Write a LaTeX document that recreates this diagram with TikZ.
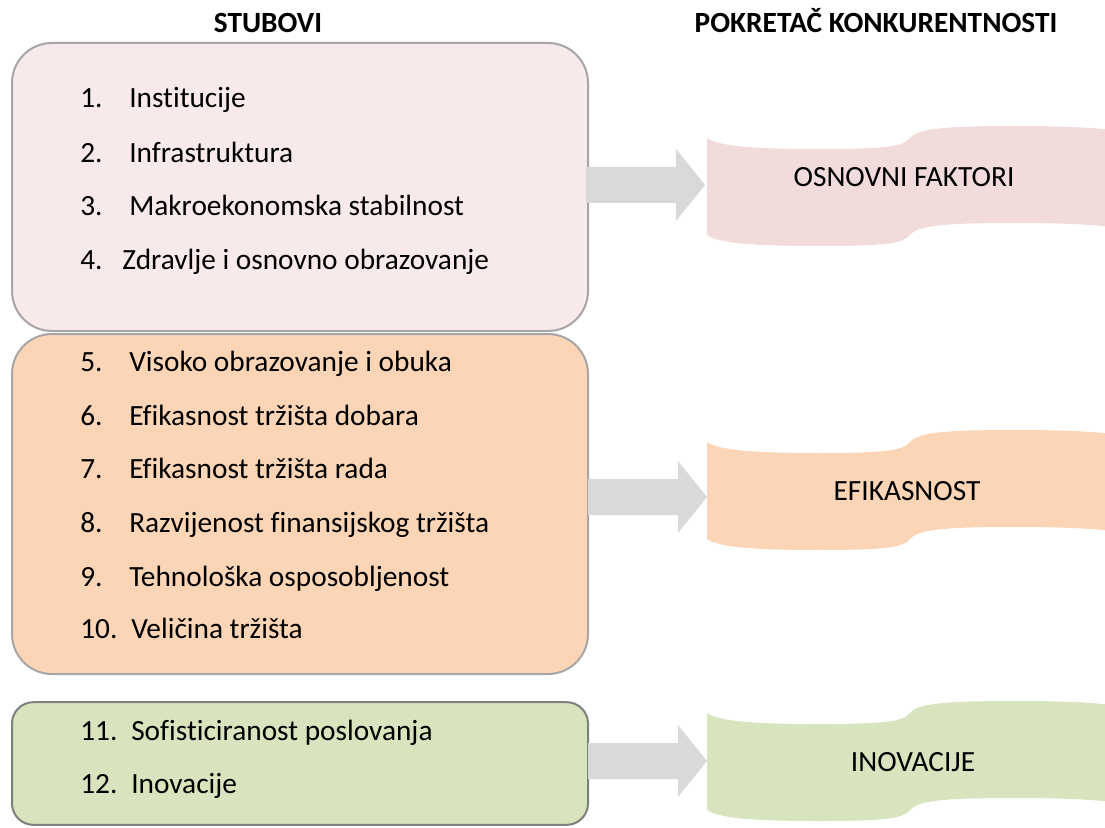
\documentclass[tikz,border=0pt]{standalone}
\usepackage{fontspec}
\setmainfont{Carlito}[Ligatures=NoCommon]
\usetikzlibrary{calc}
\definecolor{pinkbox}{HTML}{F8EAEA}
\definecolor{pinkwave}{HTML}{F2DCDB}
\definecolor{orangebox}{HTML}{FBD5B5}
\definecolor{greenbox}{HTML}{D7E4BD}
\definecolor{arrowgray}{HTML}{D9D9D9}
\definecolor{bordergray}{HTML}{A6A6A6}
\definecolor{borderdark}{HTML}{7F7F7F}
\newcommand\blockarr[2]{%
  \fill[blockarrow] ($(#1)+(0,-18)$) -- ($(#2)+(-29,-18)$) -- ($(#2)+(-29,-36)$) -- (#2)
    -- ($(#2)+(-29,36)$) -- ($(#2)+(-29,18)$) -- ($(#1)+(0,18)$) -- cycle;}
\newcommand\wavefill[2]{%
  \begin{scope}[shift={(0,#1)}]
  \fill[#2] (707,138) .. controls (720,147) and (760,149) .. (820,149)
    .. controls (890,149) and (903,146) .. (910,138)
    .. controls (917,130) and (935,126) .. (1010,126)
    .. controls (1060,126) and (1090,127) .. (1120,131)
    -- (1120,228) .. controls (1090,224) and (1060,223) .. (1010,223)
    .. controls (935,223) and (917,227) .. (910,235)
    .. controls (903,243) and (890,246) .. (820,246)
    .. controls (760,246) and (720,244) .. (707,235) -- cycle;
  \end{scope}}
\tikzset{
  box/.style={draw=bordergray, line width=1.5pt, rounded corners=30pt, minimum width=432pt, inner sep=0pt},
  blockarrow/.style={fill=arrowgray},
  item/.style={anchor=base west, inner sep=0pt, font=\fontsize{22}{26}\selectfont},
  wavetext/.style={anchor=base, inner sep=0pt, font=\fontsize{22}{26}\selectfont},
  title/.style={anchor=base, inner sep=0pt, font=\fontsize{22}{26}\selectfont\bfseries},
}
\begin{document}
\begin{tikzpicture}[x=0.75pt,y=-0.75pt]
\useasboundingbox (0,0) rectangle (1105,827);
\clip (0,0) rectangle (1105,827);
% titles
\node[title] (tl) at (268,33) {STUBOVI};
\node[title] (tr) at (876,33) {POKRETAČ KONKURENTNOSTI};
% boxes
\node[box, fill=pinkbox, minimum height=216pt] (b1) at (300,187) {};
\node[box, fill=orangebox, minimum height=255pt] (b2) at (300,504) {};
\node[box, draw=borderdark, fill=greenbox, rounded corners=16pt, minimum height=92pt] (b3) at (300,763.5) {};
% arrows
\coordinate (a1s) at (586,185); \coordinate (a1e) at (705,185);
\coordinate (a2s) at (588,497); \coordinate (a2e) at (707,497);
\coordinate (a3s) at (588,761); \coordinate (a3e) at (707,761);
\blockarr{a1s}{a1e}
\blockarr{a2s}{a2e}
\blockarr{a3s}{a3e}
% waves
\wavefill{0}{pinkwave}
\wavefill{304}{orangebox}
\wavefill{575}{greenbox}
\node[wavetext] (w1) at (904,187) {OSNOVNI FAKTORI};
\node[wavetext] (w2) at (907,500) {EFIKASNOST};
\node[wavetext] (w3) at (913,771) {INOVACIJE};
% items box 1
\node[item] (n1) at (80,108) {1.}; \node[item] (i1) at (129,108) {Institucije};
\node[item] (n2) at (80,163) {2.}; \node[item] (i2) at (129,163) {Infrastruktura};
\node[item] (n3) at (80,216) {3.}; \node[item] (i3) at (129,216) {Makroekonomska stabilnost};
\node[item] (n4) at (80,269) {4.}; \node[item] (i4) at (122,269) {Zdravlje i osnovno obrazovanje};
% items box 2
\node[item] (n5) at (80,371) {5.}; \node[item] (i5) at (129,371) {Visoko obrazovanje i obuka};
\node[item] (n6) at (80,425) {6.}; \node[item] (i6) at (129,425) {Efikasnost tržišta dobara};
\node[item] (n7) at (80,478) {7.}; \node[item] (i7) at (129,478) {Efikasnost tržišta rada};
\node[item] (n8) at (80,532) {8.}; \node[item] (i8) at (129,532) {Razvijenost finansijskog tržišta};
\node[item] (n9) at (80,586) {9.}; \node[item] (i9) at (129,586) {Tehnološka osposobljenost};
\node[item] (n10) at (80,638) {10.}; \node[item] (i10) at (131,638) {Veličina tržišta};
% items box 3
\node[item] (n11) at (80,740) {11.}; \node[item] (i11) at (131,740) {Sofisticiranost poslovanja};
\node[item] (n12) at (80,793) {12.}; \node[item] (i12) at (131,793) {Inovacije};
\end{tikzpicture}
\end{document}
